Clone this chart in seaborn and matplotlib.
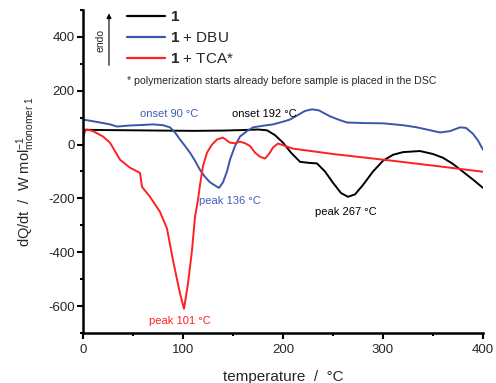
import numpy as np
import pandas as pd
import seaborn as sns
import matplotlib
matplotlib.use('Agg')
import matplotlib.pyplot as plt
from matplotlib.ticker import MultipleLocator
from matplotlib.lines import Line2D

# DSC traces (temperature in degC, heat flow in W/mol)
t_black = [0, 20, 50, 80, 110, 140, 160, 175, 184, 192, 200, 208, 217, 226, 234,
           242, 250, 258, 265, 272, 280, 290, 300, 310, 320, 337, 350, 360, 370,
           380, 390, 400]
q_black = [55, 54, 53, 52, 51, 52, 54, 56, 53, 35, 7, -30, -64, -68, -70,
           -100, -142, -180, -194, -185, -150, -100, -60, -38, -28, -24, -35, -49, -72,
           -101, -130, -161]

t_blue = [0, 8, 17, 27, 34, 47, 60, 70, 80, 87, 92, 97, 102, 107, 112, 117, 122,
          127, 132, 136, 140, 144, 147, 152, 157, 164, 170, 180, 190, 200, 207, 215,
          222, 229, 236, 247, 256, 264, 280, 300, 320, 334, 345, 357, 367, 377, 383,
          390, 395, 400]
q_blue = [93, 88, 82, 75, 67, 71, 73, 75, 72, 64, 45, 19, -5, -30, -60, -94, -120,
          -140, -152, -161, -140, -100, -56, -5, 30, 50, 64, 70, 75, 85, 93, 110,
          125, 131, 127, 105, 92, 82, 80, 79, 72, 64, 55, 45, 50, 64, 62,
          40, 15, -19]

t_red = [0, 2, 4, 10, 20, 27, 37, 47, 57, 59, 67, 77, 84, 90, 97, 101, 105, 109,
         112, 115, 117, 120, 124, 129, 134, 140, 147, 152, 157, 162, 167, 172, 177,
         182, 186, 190, 195, 210, 250, 300, 350, 400]
q_red = [25, 50, 56, 50, 30, 7, -56, -86, -105, -157, -194, -250, -312, -430, -553,
         -610, -516, -393, -269, -205, -150, -80, -30, 0, 19, 26, 7, 5, 11, 5, -5,
         -30, -45, -52, -35, -11, 4, -15, -35, -56, -78, -101]

series_names = ['1', '1 + DBU', '1 + TCA*']
legend_labels = [r'$\mathbf{1}$', r'$\mathbf{1}$ + DBU', r'$\mathbf{1}$ + TCA*']

df = pd.concat([
    pd.DataFrame({'T': t_black, 'Q': q_black, 'sample': series_names[0]}),
    pd.DataFrame({'T': t_blue, 'Q': q_blue, 'sample': series_names[1]}),
    pd.DataFrame({'T': t_red, 'Q': q_red, 'sample': series_names[2]}),
])

palette = {'1': '#000000', '1 + DBU': '#3a56a8', '1 + TCA*': '#ff2020'}
blue_txt = '#3f5fb5'

sns.set_style('ticks')
plt.rcParams['font.family'] = ['Liberation Sans', 'DejaVu Sans']
plt.rcParams['mathtext.fontset'] = 'custom'
plt.rcParams['mathtext.rm'] = 'Liberation Sans'
plt.rcParams['mathtext.bf'] = 'Liberation Sans:bold'
plt.rcParams['mathtext.it'] = 'Liberation Sans'
plt.rcParams['axes.unicode_minus'] = False

fig = plt.figure(figsize=(4.96, 3.83), dpi=100)
ax = fig.add_axes([83/496, 50/383, 400/496, 323/383])

sns.lineplot(data=df, x='T', y='Q', hue='sample', palette=palette, sort=False,
             estimator=None, lw=1.4, legend=False, ax=ax)

ax.set_xlim(0, 400)
ax.set_ylim(-700, 500)
ax.xaxis.set_major_locator(MultipleLocator(100))
ax.xaxis.set_minor_locator(MultipleLocator(50))
ax.yaxis.set_major_locator(MultipleLocator(200))
ax.yaxis.set_minor_locator(MultipleLocator(100))
for s in ['top', 'right']:
    ax.spines[s].set_visible(False)
for s in ['left', 'bottom']:
    ax.spines[s].set_linewidth(1.8)
    ax.spines[s].set_color('black')
ax.tick_params(which='major', length=4, width=1.5, labelsize=9.5, color='black', pad=2)
ax.tick_params(which='minor', length=2.5, width=1.5, color='black')
ax.tick_params(axis='x', which='major', pad=4)

ax.set_xlabel('temperature  /  °C', fontsize=11, labelpad=10)
ax.set_ylabel(r'dQ/dt  /  W mol$^{-1}_{\mathrm{monomer\ 1}}$', fontsize=10.5, labelpad=8)

handles = [Line2D([0], [0], color=palette[n], lw=1.6) for n in series_names]
leg = ax.legend(handles, legend_labels, loc='upper left', bbox_to_anchor=(0.095, 1.018),
                frameon=False, fontsize=11, handlelength=2.5, handletextpad=0.3,
                labelspacing=0.45, borderaxespad=0)

ax.annotate('', xy=(0.065, 0.998), xytext=(0.065, 0.82), xycoords='axes fraction',
            arrowprops=dict(arrowstyle='-|>', lw=0.8, color='black', mutation_scale=7))
ax.text(0.043, 0.905, 'endo', rotation=90, fontsize=7.5, ha='center', va='center',
        transform=ax.transAxes)
ax.text(0.11, 0.78, '* polymerization starts already before sample is placed in the DSC',
        fontsize=7.6, ha='left', va='center', transform=ax.transAxes)

ax.text(86, 112, 'onset 90 °C', color=blue_txt, fontsize=8, ha='center', va='center')
ax.text(181, 112, 'onset 192 °C', color='black', fontsize=8, ha='center', va='center')
ax.text(147, -210, 'peak 136 °C', color=blue_txt, fontsize=8, ha='center', va='center')
ax.text(97, -655, 'peak 101 °C', color='#ff2020', fontsize=8, ha='center', va='center')
ax.text(263, -250, 'peak 267 °C', color='black', fontsize=8, ha='center', va='center')

fig.savefig('out.png', dpi=100)
